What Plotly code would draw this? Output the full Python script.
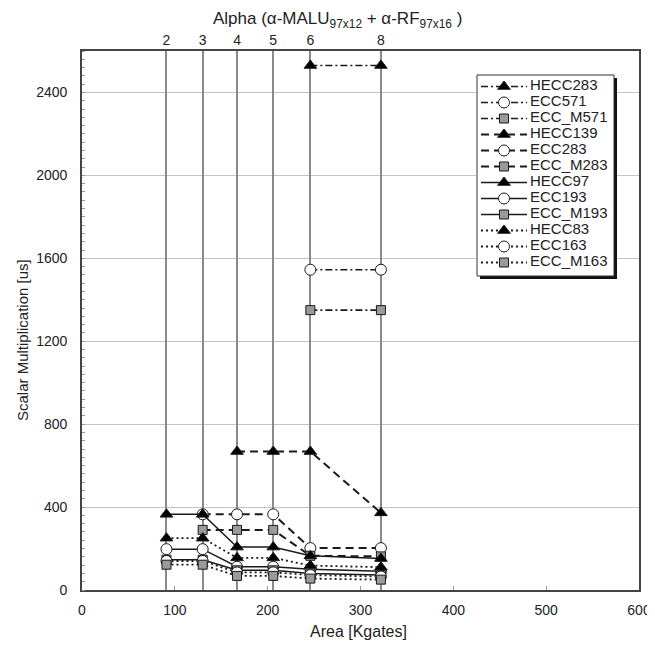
import plotly.graph_objects as go

# ---- data ----
alpha_labels = ["2", "3", "4", "5", "6", "8"]
area_kgates = [91, 130, 167, 206, 246, 322]

series_names = ["HECC283", "ECC571", "ECC_M571",
                "HECC139", "ECC283", "ECC_M283",
                "HECC97", "ECC193", "ECC_M193",
                "HECC83", "ECC163", "ECC_M163"]

hecc283 = [None, None, None, None, 2530, 2530]
ecc571 = [None, None, None, None, 1545, 1545]
ecc_m571 = [None, None, None, None, 1350, 1350]
hecc139 = [None, None, 668, 668, 668, 372]
ecc283 = [None, 365, 365, 365, 202, 202]
ecc_m283 = [None, 290, 290, 290, 165, 162]
hecc97 = [365, 365, 207, 207, 165, 152]
ecc193 = [197, 197, 112, 112, 100, 90]
ecc_m193 = [146, 146, 95, 95, 80, 72]
hecc83 = [250, 250, 155, 155, 118, 110]
ecc163 = [140, 140, 85, 85, 72, 65]
ecc_m163 = [122, 122, 68, 68, 55, 50]

values = [hecc283, ecc571, ecc_m571, hecc139, ecc283, ecc_m283,
          hecc97, ecc193, ecc_m193, hecc83, ecc163, ecc_m163]

y_ticks = [0, 400, 800, 1200, 1600, 2000, 2400]

# ---- styles ----
DASHDOT = "7px,3px,2px,3px"
DASH = "8px,5px"
DOT = "2px,3px"
dashes = [DASHDOT] * 3 + [DASH] * 3 + ["solid"] * 3 + [DOT] * 3
widths = [1.6] * 3 + [2.0] * 3 + [1.5] * 3 + [1.8] * 3
symbols = ["triangle-up", "circle", "square"] * 4
fills = {"triangle-up": "#000000", "circle": "#ffffff", "square": "#9a9a9a"}
sizes = {"triangle-up": 11, "circle": 11, "square": 9}
INK = "#1a1a1a"

# page has an 8px body margin: lay out in window pixels, shift into figure pixels
OFF = 8
WIN_W, WIN_H = 655, 645
W, H = WIN_W - OFF, WIN_H - OFF
PLOT_L, PLOT_R, PLOT_T, PLOT_B = 82, 639, 51, 590   # window pixels
ML, MR, MT, MB = PLOT_L - OFF, WIN_W - PLOT_R, PLOT_T - OFF, WIN_H - PLOT_B
PW, PH = W - ML - MR, H - MT - MB


def px_x(px):
    return (px - OFF - ML) / PW


def px_y(py):
    return (H - MB - (py - OFF)) / PH


font_family = "Liberation Sans, Arial, sans-serif"

fig = go.Figure()
for name, vals, dsh, wd, sym in zip(series_names, values, dashes, widths, symbols):
    fig.add_trace(go.Scatter(
        x=area_kgates, y=vals, name=name, mode="lines+markers",
        line=dict(color=INK, width=wd, dash=dsh),
        marker=dict(symbol=sym, size=sizes[sym], color=fills[sym],
                    line=dict(color=INK, width=1)),
        connectgaps=False, showlegend=False,
    ))

# invisible trace to activate the top (alpha) axis
fig.add_trace(go.Scatter(x=area_kgates, y=[0] * len(area_kgates), xaxis="x2",
                         mode="markers", marker=dict(opacity=0),
                         showlegend=False, hoverinfo="skip"))

# ---- hand-built legend (own small subplot, window-pixel units) ----
LX0, LX1, LY0, LY1 = 476, 617, 74, 279
ROW0, ROWH = 86.5, 16.0
rows = [ROW0 + ROWH * i for i in range(len(series_names))]
for i, (dsh, wd, sym) in enumerate(zip(dashes, widths, symbols)):
    fig.add_trace(go.Scatter(x=[481, 527], y=[rows[i]] * 2, xaxis="x3", yaxis="y3",
                             mode="lines", line=dict(color=INK, width=wd, dash=dsh),
                             showlegend=False, hoverinfo="skip"))
    fig.add_trace(go.Scatter(x=[504], y=[rows[i]], xaxis="x3", yaxis="y3",
                             mode="markers",
                             marker=dict(symbol=sym, size=sizes[sym], color=fills[sym],
                                         line=dict(color=INK, width=1)),
                             showlegend=False, hoverinfo="skip"))
fig.add_trace(go.Scatter(x=[530] * len(rows), y=rows, xaxis="x3", yaxis="y3",
                         mode="text", text=series_names, textposition="middle right",
                         textfont=dict(size=15, color="#222222", family=font_family),
                         showlegend=False, hoverinfo="skip"))

fig.update_layout(
    width=W, height=H,
    margin=dict(l=ML, r=MR, t=MT, b=MB),
    paper_bgcolor="white", plot_bgcolor="white",
    font=dict(family=font_family, color="#222222", size=14),
    showlegend=False,
    xaxis=dict(range=[0, 600], dtick=100, showgrid=False, zeroline=False,
               showline=True, linecolor="#444444", linewidth=1.6, mirror=True,
               ticks="inside", ticklen=4, tickcolor="#999999",
               ticklabelstandoff=6, automargin=False,
               tickfont=dict(size=14)),
    xaxis2=dict(range=[0, 600], overlaying="x", side="top",
                tickvals=area_kgates, ticktext=alpha_labels,
                showgrid=True, gridcolor="#8a8a8a", gridwidth=1.6,
                zeroline=False, showline=False, ticks="", automargin=False,
                ticklabelstandoff=2, tickfont=dict(size=14)),
    yaxis=dict(range=[0, 2600], tickvals=y_ticks,
               showgrid=True, gridcolor="#c4c4c4", gridwidth=1, zeroline=False,
               showline=True, linecolor="#444444", linewidth=1.6, mirror=True,
               ticks="", ticklabelstandoff=10, automargin=False,
               minor=dict(dtick=40, ticks="inside", ticklen=3, tickcolor="#999999"),
               tickfont=dict(size=14)),
    xaxis3=dict(domain=[px_x(LX0), px_x(LX1)], range=[LX0, LX1], anchor="y3",
                visible=False, fixedrange=True),
    yaxis3=dict(domain=[px_y(LY1), px_y(LY0)], range=[LY1, LY0], anchor="x3",
                visible=False, fixedrange=True),
    shapes=[
        dict(type="rect", xref="x3", yref="y3", layer="below",
             x0=LX0 + 4, x1=LX1, y0=LY0 + 4, y1=LY1,
             fillcolor="#111111", line=dict(width=0)),
        dict(type="rect", xref="x3", yref="y3", layer="below",
             x0=LX0 + 1, x1=LX1 - 3, y0=LY0 + 1, y1=LY1 - 3,
             fillcolor="white", line=dict(color="#333333", width=1)),
    ],
    annotations=[
        dict(text="Alpha (α-MALU<sub>97x12</sub> + α-RF<sub>97x16</sub> )",
             xref="paper", yref="paper", x=px_x(337), y=px_y(20),
             xanchor="center", yanchor="middle", showarrow=False,
             font=dict(size=17, color="#222222")),
        dict(text="Area [Kgates]", xref="paper", yref="paper",
             x=px_x(358), y=px_y(631), xanchor="center", yanchor="middle",
             showarrow=False, font=dict(size=16, color="#222222")),
        dict(text="Scalar Multiplication [us]", xref="paper", yref="paper",
             x=px_x(22), y=px_y(340), xanchor="center", yanchor="middle",
             textangle=-90, showarrow=False, font=dict(size=15, color="#222222")),
    ],
)

fig.write_html("out.html")
